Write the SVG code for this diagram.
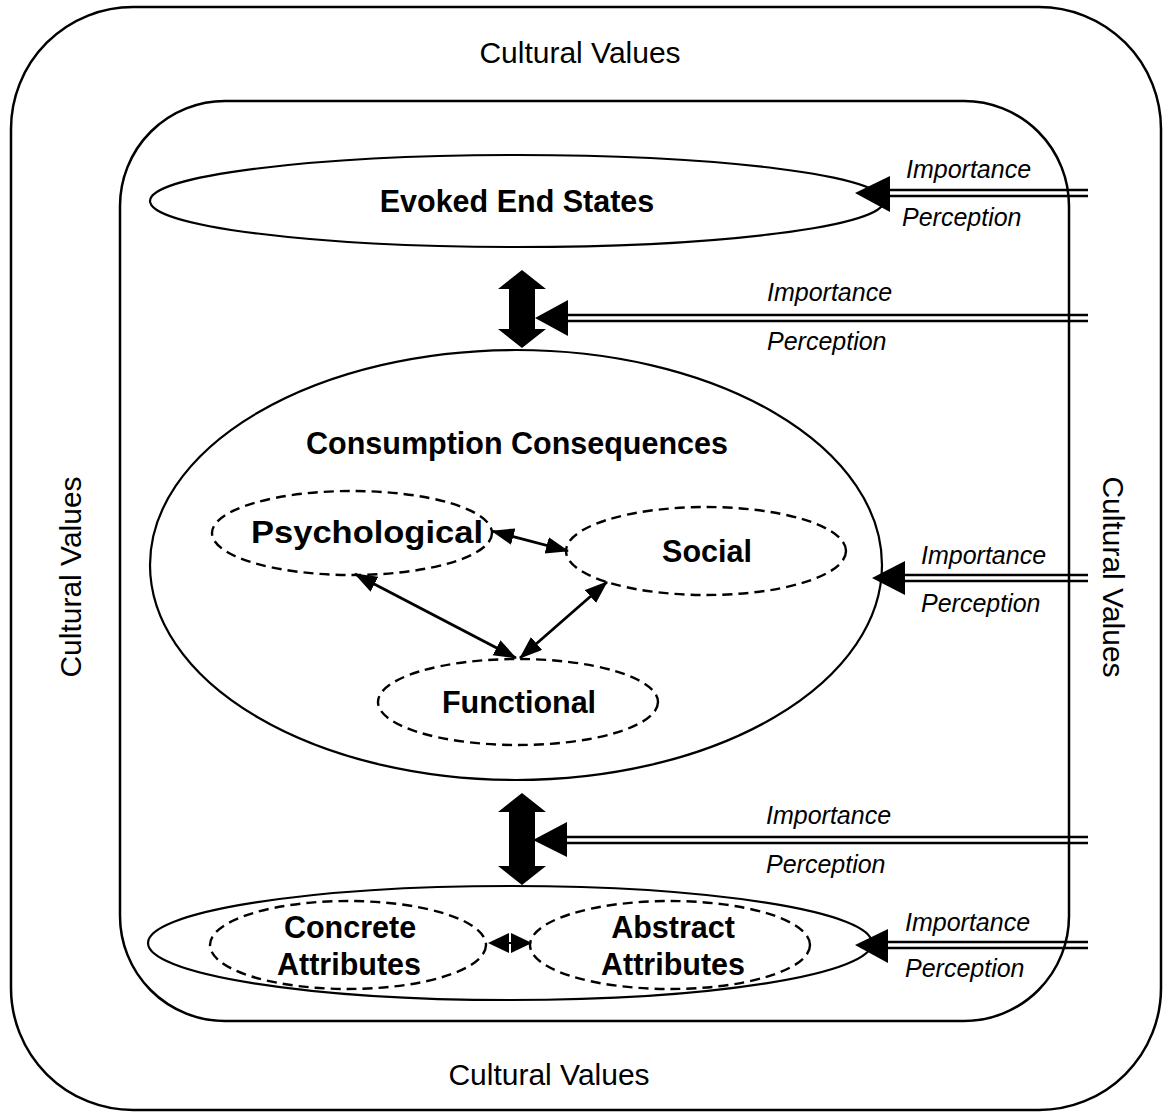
<svg xmlns="http://www.w3.org/2000/svg" width="1163" height="1113" viewBox="0 0 1163 1113">
  <style>
    .frame { fill: none; stroke: #000; stroke-width: 2.5; }
    .solid { fill: none; stroke: #000; stroke-width: 2.2; }
    .dash { fill: none; stroke: #000; stroke-width: 2.4; stroke-dasharray: 10 6; }
    .rail { stroke: #000; stroke-width: 2.5; }
    .link { stroke: #000; stroke-width: 2.8; fill: none; }
    .head { fill: #000; stroke: none; }
    .title { font-family: "Liberation Sans", Arial, sans-serif; font-size: 30.5px; font-weight: bold; fill: #000; text-anchor: middle; }
    .culture { font-family: "Liberation Sans", Arial, sans-serif; font-size: 30px; fill: #000; text-anchor: middle; }
    .note { font-family: "Liberation Sans", Arial, sans-serif; font-size: 25px; font-style: italic; fill: #000; }
  </style>
  <defs>
    <marker id="tip" markerUnits="userSpaceOnUse" markerWidth="24" markerHeight="20" refX="22" refY="8.5" orient="auto-start-reverse">
      <path d="M0,0 L23,8.5 L0,17 Z" fill="#000"/>
    </marker>
  </defs>

  <rect width="1163" height="1113" fill="#fff"/>

  <!-- cultural frame -->
  <g id="cultural-values">
    <rect class="frame" x="11" y="7" width="1150" height="1103" rx="122" ry="122"/>
    <text class="culture" x="580" y="63">Cultural Values</text>
    <text class="culture" x="549" y="1085">Cultural Values</text>
    <text class="culture" transform="translate(81,577) rotate(-90)">Cultural Values</text>
    <text class="culture" transform="translate(1103,577) rotate(90)">Cultural Values</text>
  </g>

  <g id="inner-frame">
    <rect class="frame" x="120" y="101" width="949" height="920" rx="105" ry="105"/>
  </g>

  <g id="evoked-end-states">
    <ellipse class="solid" cx="517" cy="201" rx="367" ry="46"/>
    <text class="title" x="517" y="212">Evoked End States</text>
  </g>

  <g id="consumption-consequences">
    <ellipse class="solid" cx="516" cy="565" rx="366" ry="215"/>
    <text class="title" x="517" y="454">Consumption Consequences</text>
  </g>

  <g id="psychological">
    <ellipse class="dash" cx="352" cy="533" rx="140" ry="42"/>
    <text class="title" x="367" y="543" textLength="232" lengthAdjust="spacingAndGlyphs">Psychological</text>
  </g>

  <g id="social">
    <ellipse class="dash" cx="706" cy="551" rx="140" ry="44"/>
    <text class="title" x="707" y="562">Social</text>
  </g>

  <g id="functional">
    <ellipse class="dash" cx="518" cy="702" rx="140" ry="43"/>
    <text class="title" x="519" y="713">Functional</text>
  </g>

  <g id="attributes">
    <ellipse class="solid" cx="510" cy="943" rx="362" ry="57"/>
  </g>

  <g id="concrete-attributes">
    <ellipse class="dash" cx="348" cy="945" rx="138" ry="44"/>
    <text class="title" x="350" y="938">Concrete</text>
    <text class="title" x="349" y="975">Attributes</text>
  </g>

  <g id="abstract-attributes">
    <ellipse class="dash" cx="670" cy="945" rx="140" ry="44"/>
    <text class="title" x="673" y="938">Abstract</text>
    <text class="title" x="673" y="975">Attributes</text>
  </g>

  <g id="connectors">
    <!-- links between consequence types -->
    <line class="link" x1="492" y1="531" x2="568" y2="551" marker-start="url(#tip)" marker-end="url(#tip)"/>
    <line class="link" x1="355" y1="574" x2="516" y2="658" marker-start="url(#tip)" marker-end="url(#tip)"/>
    <line class="link" x1="607" y1="582" x2="520" y2="658" marker-start="url(#tip)" marker-end="url(#tip)"/>

    <!-- concrete / abstract link -->
    <polygon class="head" points="488,943 509,933 509,953"/>
    <polygon class="head" points="532,943 511,933 511,953"/>
    <line x1="509" y1="943" x2="511" y2="943" stroke="#000" stroke-width="2"/>

    <!-- heavy two-way arrows between levels -->
    <path class="head" d="M522,270 L546,289 L535,289 L535,329 L546,329 L522,348 L498,329 L509,329 L509,289 L498,289 Z"/>
    <path class="head" d="M522,793 L546,812 L535,812 L535,866 L546,866 L522,885 L498,866 L509,866 L509,812 L498,812 Z"/>

    <!-- importance / perception inputs -->
    <line class="rail" x1="888" y1="190" x2="1088" y2="190"/>
    <line class="rail" x1="888" y1="196" x2="1088" y2="196"/>
    <polygon class="head" points="855,193 890,176 890,212"/>

    <line class="rail" x1="566" y1="315" x2="1088" y2="315"/>
    <line class="rail" x1="566" y1="321" x2="1088" y2="321"/>
    <polygon class="head" points="535,318 568,300 568,336"/>

    <line class="rail" x1="903" y1="575" x2="1088" y2="575"/>
    <line class="rail" x1="903" y1="581" x2="1088" y2="581"/>
    <polygon class="head" points="872,578 905,561 905,595"/>

    <line class="rail" x1="565" y1="837" x2="1088" y2="837"/>
    <line class="rail" x1="565" y1="843" x2="1088" y2="843"/>
    <polygon class="head" points="533,840 567,822 567,857"/>

    <line class="rail" x1="886" y1="942" x2="1088" y2="942"/>
    <line class="rail" x1="886" y1="948" x2="1088" y2="948"/>
    <polygon class="head" points="855,945 888,929 888,963"/>
  </g>

  <g id="input-labels">
    <text class="note" x="906" y="178">Importance</text>
    <text class="note" x="902" y="226">Perception</text>
    <text class="note" x="767" y="301">Importance</text>
    <text class="note" x="767" y="350">Perception</text>
    <text class="note" x="921" y="564">Importance</text>
    <text class="note" x="921" y="612">Perception</text>
    <text class="note" x="766" y="824">Importance</text>
    <text class="note" x="766" y="873">Perception</text>
    <text class="note" x="905" y="931">Importance</text>
    <text class="note" x="905" y="977">Perception</text>
  </g>
</svg>
